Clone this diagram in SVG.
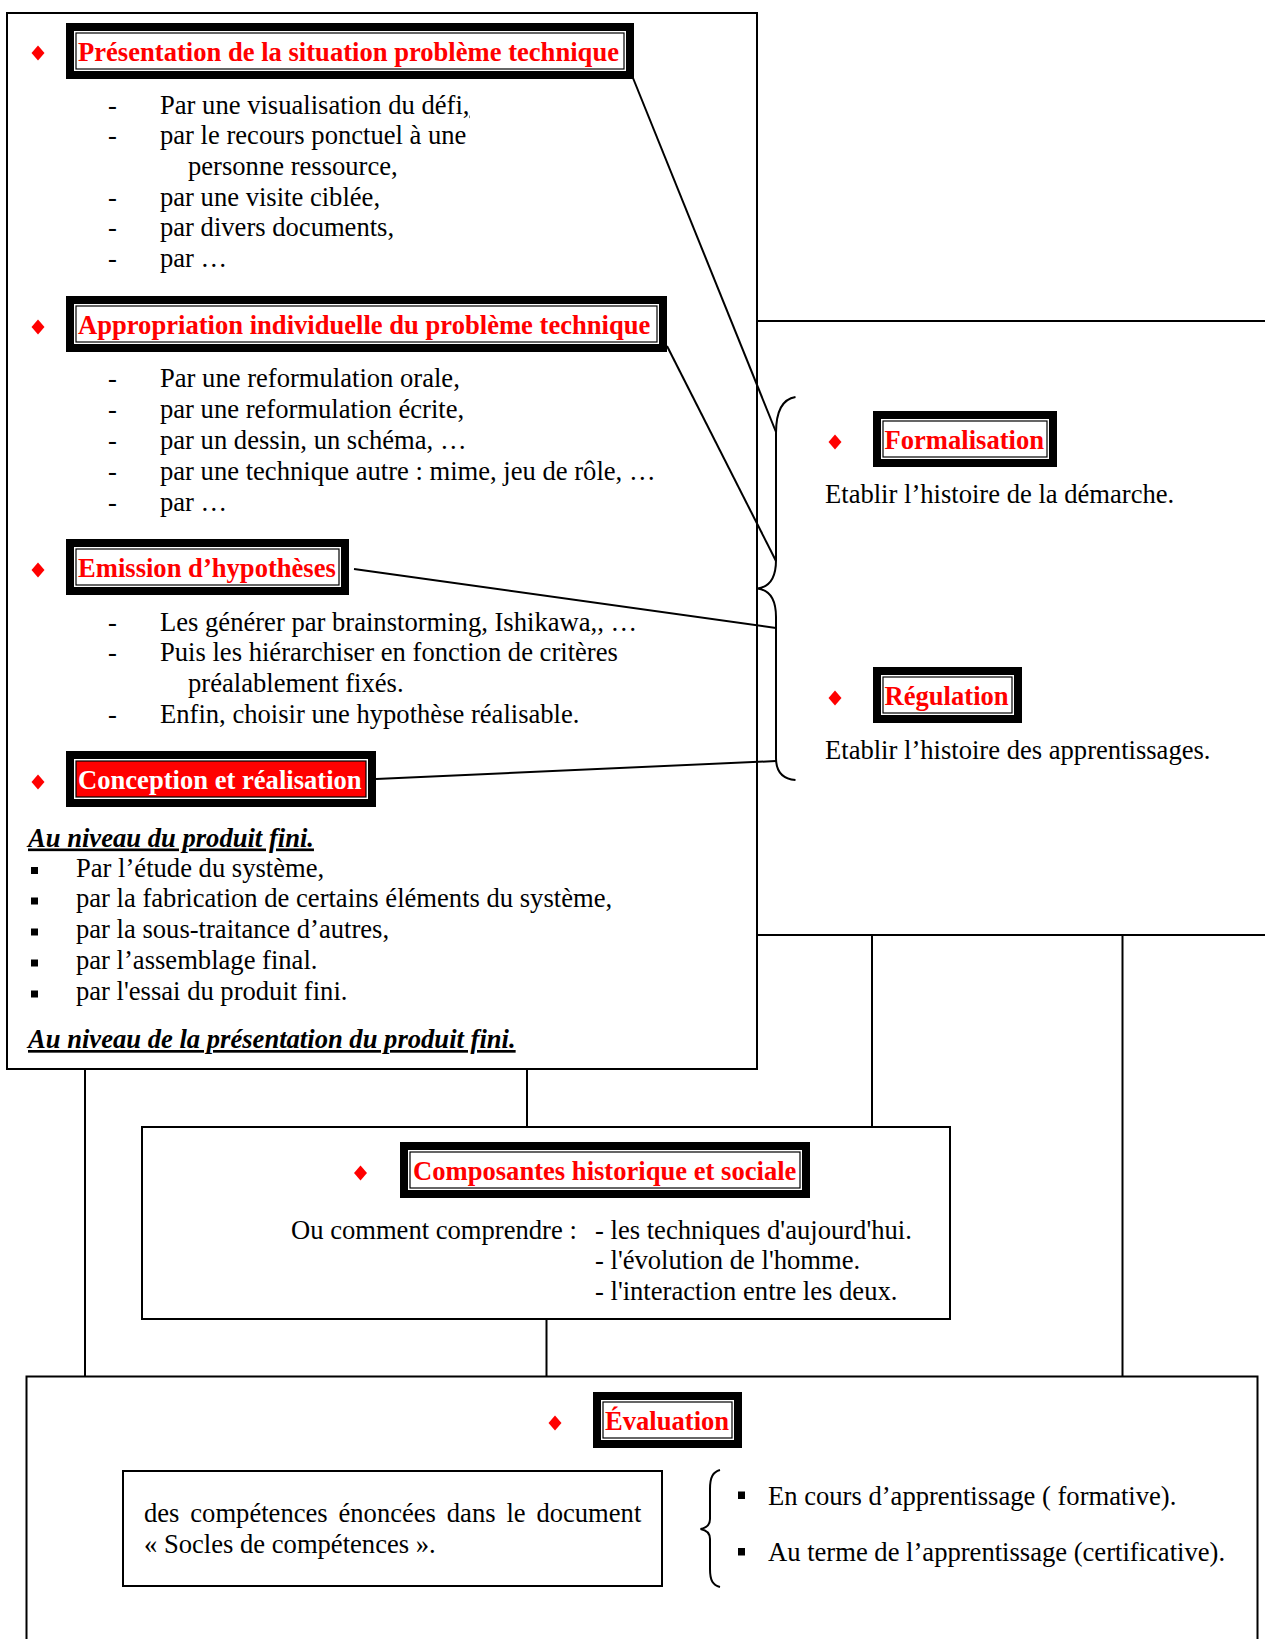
<svg xmlns="http://www.w3.org/2000/svg" width="1265" height="1639" viewBox="0 0 1265 1639">
<defs>
<style>
.t{font-family:"Liberation Serif","Times New Roman",serif;font-size:26.6px;fill:#000}
.h{font-family:"Liberation Serif","Times New Roman",serif;font-size:26.6px;font-weight:bold;fill:#ff0000}
.hw{font-family:"Liberation Serif","Times New Roman",serif;font-size:26.6px;font-weight:bold;fill:#ffffff}
.ui{font-family:"Liberation Serif","Times New Roman",serif;font-size:26.6px;font-weight:bold;font-style:italic;text-decoration:underline;fill:#000}
.box{fill:#fff;stroke:#000;stroke-width:2}
.ln{fill:none;stroke:#000;stroke-width:2}
.fo{fill:#000}
.fw{fill:#fff}
.fl{fill:#fff;stroke:#000;stroke-width:1.2}
.flr{fill:#ff0000;stroke:#000;stroke-width:1.2}
.dm{fill:#ff0000}
.sq{fill:#000}
</style>
<polygon id="diam" points="0,-7.5 6.5,0 0,7.5 -6.5,0"/>
</defs>
<rect width="1265" height="1639" fill="#fff"/>

<g id="node-demarche">
<rect class="box" x="7" y="13" width="750" height="1056"/>
<g id="titre-presentation">
<use href="#diam" class="dm" x="38" y="53"/>
<rect class="fo" x="66" y="23" width="568" height="56"/>
<rect class="fw" x="74" y="31" width="552" height="40"/>
<rect class="fl" x="76" y="33" width="548" height="36"/>
<text class="h" x="78" y="61">Présentation de la situation problème technique</text>
</g>
<text class="t" x="108" y="113.5">-</text><text class="t" x="160" y="113.5">Par une visualisation du défi<tspan style="text-decoration:underline">,</tspan></text>
<text class="t" x="108" y="144.3">-</text><text class="t" x="160" y="144.3">par le recours ponctuel à une</text>
<text class="t" x="188" y="175">personne ressource,</text>
<text class="t" x="108" y="205.5">-</text><text class="t" x="160" y="205.5">par une visite ciblée,</text>
<text class="t" x="108" y="236.3">-</text><text class="t" x="160" y="236.3">par divers documents,</text>
<text class="t" x="108" y="267">-</text><text class="t" x="160" y="267">par …</text>

<g id="titre-appropriation">
<use href="#diam" class="dm" x="38" y="327"/>
<rect class="fo" x="66" y="296" width="601" height="56"/>
<rect class="fw" x="74" y="304" width="585" height="40"/>
<rect class="fl" x="76" y="306" width="581" height="36"/>
<text class="h" x="78" y="334">Appropriation individuelle du problème technique</text>
</g>
<text class="t" x="108" y="387.3">-</text><text class="t" x="160" y="387.3">Par une reformulation orale,</text>
<text class="t" x="108" y="418.2">-</text><text class="t" x="160" y="418.2">par une reformulation écrite,</text>
<text class="t" x="108" y="449">-</text><text class="t" x="160" y="449">par un dessin, un schéma, …</text>
<text class="t" x="108" y="479.9">-</text><text class="t" x="160" y="479.9">par une technique autre : mime, jeu de rôle, …</text>
<text class="t" x="108" y="510.7">-</text><text class="t" x="160" y="510.7">par …</text>

<g id="titre-emission">
<use href="#diam" class="dm" x="38" y="570"/>
<rect class="fo" x="66" y="539" width="283" height="56"/>
<rect class="fw" x="74" y="547" width="267" height="40"/>
<rect class="fl" x="76" y="549" width="263" height="36"/>
<text class="h" x="78" y="577">Emission d’hypothèses</text>
</g>
<text class="t" x="108" y="630.5">-</text><text class="t" x="160" y="630.5">Les générer par brainstorming, Ishikawa,, …</text>
<text class="t" x="108" y="661">-</text><text class="t" x="160" y="661">Puis les hiérarchiser en fonction de critères</text>
<text class="t" x="188" y="691.7">préalablement fixés.</text>
<text class="t" x="108" y="722.5">-</text><text class="t" x="160" y="722.5">Enfin, choisir une hypothèse réalisable.</text>

<g id="titre-conception">
<use href="#diam" class="dm" x="38" y="782"/>
<rect class="fo" x="66" y="751" width="310" height="56"/>
<rect class="fw" x="74" y="759" width="294" height="40"/>
<rect class="flr" x="76" y="761" width="290" height="36"/>
<text class="hw" x="78" y="789">Conception et réalisation</text>
</g>
<text class="ui" x="28" y="846.5">Au niveau du produit fini.</text>
<rect class="sq" x="31" y="867" width="7" height="7"/><text class="t" x="76" y="876.5">Par l’étude du système,</text>
<rect class="sq" x="31" y="897.5" width="7" height="7"/><text class="t" x="76" y="907">par la fabrication de certains éléments du système,</text>
<rect class="sq" x="31" y="928.5" width="7" height="7"/><text class="t" x="76" y="938">par la sous-traitance d’autres,</text>
<rect class="sq" x="31" y="959.5" width="7" height="7"/><text class="t" x="76" y="969">par l’assemblage final.</text>
<rect class="sq" x="31" y="990.5" width="7" height="7"/><text class="t" x="76" y="1000">par l'essai du produit fini.</text>
<text class="ui" x="28" y="1048">Au niveau de la présentation du produit fini.</text>
</g>

<g id="node-formalisation-regulation">
<rect class="box" x="757" y="321" width="520" height="614"/>
<g id="titre-formalisation">
<use href="#diam" class="dm" x="835" y="442"/>
<rect class="fo" x="873" y="411" width="184" height="56"/>
<rect class="fw" x="881" y="419" width="168" height="40"/>
<rect class="fl" x="883" y="421" width="164" height="36"/>
<text class="h" x="884.5" y="449">Formalisation</text>
</g>
<text class="t" x="825" y="503">Etablir l’histoire de la démarche.</text>
<g id="titre-regulation">
<use href="#diam" class="dm" x="835" y="698"/>
<rect class="fo" x="873" y="667" width="149" height="56"/>
<rect class="fw" x="881" y="675" width="133" height="40"/>
<rect class="fl" x="883" y="677" width="129" height="36"/>
<text class="h" x="884.5" y="705">Régulation</text>
</g>
<text class="t" x="825" y="759">Etablir l’histoire des apprentissages.</text>
</g>

<g id="node-composantes">
<rect class="box" x="142" y="1127" width="808" height="192"/>
<use href="#diam" class="dm" x="360.5" y="1173"/>
<rect class="fo" x="400" y="1142" width="410" height="56"/>
<rect class="fw" x="408" y="1150" width="394" height="40"/>
<rect class="fl" x="410" y="1152" width="390" height="36"/>
<text class="h" x="413" y="1180">Composantes historique et sociale</text>
<text class="t" x="291" y="1238.5">Ou comment comprendre :</text>
<text class="t" x="595" y="1238.5">- les techniques d'aujourd'hui.</text>
<text class="t" x="595" y="1269">- l'évolution de l'homme.</text>
<text class="t" x="595" y="1299.5">- l'interaction entre les deux.</text>
</g>

<g id="node-evaluation">
<rect class="box" x="26.5" y="1376.5" width="1231" height="300"/>
<use href="#diam" class="dm" x="555" y="1423"/>
<rect class="fo" x="593" y="1392" width="149" height="56"/>
<rect class="fw" x="601" y="1400" width="133" height="40"/>
<rect class="fl" x="603" y="1402" width="129" height="36"/>
<text class="h" x="605" y="1430">Évaluation</text>
<g id="node-competences">
<rect class="box" x="123" y="1471" width="539" height="115"/>
<text class="t" x="144" y="1522" word-spacing="4.2">des compétences énoncées dans le document</text>
<text class="t" x="144" y="1552.5">« Socles de compétences ».</text>
</g>
<rect class="sq" x="738" y="1491.5" width="7" height="7.5"/><text class="t" x="768" y="1504.5">En cours d’apprentissage ( formative).</text>
<rect class="sq" x="738" y="1548" width="7" height="7.5"/><text class="t" x="768" y="1560.5">Au terme de l’apprentissage (certificative).</text>
</g>

<g id="connectors">
<line class="ln" x1="633" y1="78" x2="776" y2="432"/>
<line class="ln" x1="667" y1="346" x2="776" y2="561"/>
<line class="ln" x1="354" y1="569" x2="776" y2="628"/>
<line class="ln" x1="376" y1="779" x2="776" y2="761"/>
<path class="ln" d="M795.5 397 C783 399 776 410 776 433 L776 560 C776 578 770 587 757.5 588.5 C770 590 776 599 776 617 L776 758 C776 772 783 779 795.5 780"/>
<line class="ln" x1="85" y1="1069" x2="85" y2="1376.5"/>
<line class="ln" x1="527" y1="1069" x2="527" y2="1127"/>
<line class="ln" x1="872" y1="935" x2="872" y2="1127"/>
<line class="ln" x1="1122.5" y1="935" x2="1122.5" y2="1376.5"/>
<line class="ln" x1="546.5" y1="1319" x2="546.5" y2="1376.5"/>
<path class="ln" d="M720 1470 C713 1472 710 1477 710 1489 L710 1519 C710 1525 706 1528 700.5 1529 C706 1530 710 1533 710 1539 L710 1569 C710 1581 713 1585 720 1587"/>
</g>
</svg>
